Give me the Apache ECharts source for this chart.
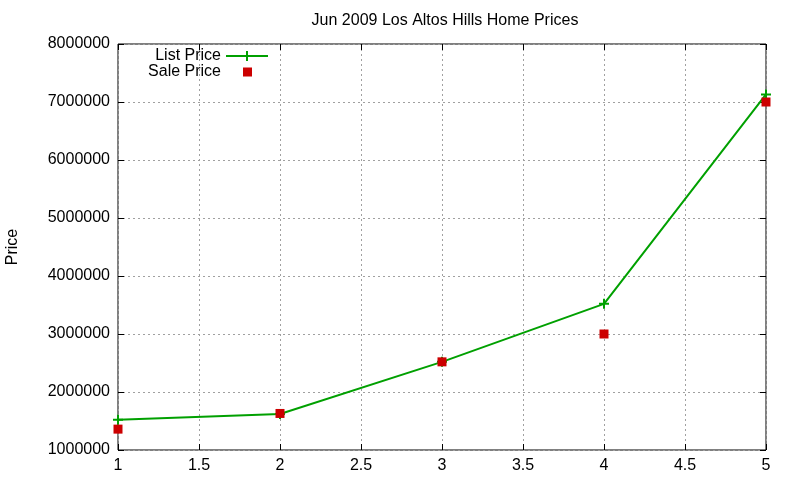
<!DOCTYPE html>
<html>
<head>
<meta charset="utf-8">
<script src="https://cdn.jsdelivr.net/npm/echarts@6/dist/echarts.min.js"></script>
<style>
  html, body { margin: 0; padding: 0; background: #fff; }
  #chart { width: 800px; height: 480px; }
</style>
</head>
<body>
<div id="chart"></div>
<script>
// values
var months = [1, 2, 3, 4, 5];
var listPrice = [1520000, 1620000, 2520000, 3520000, 7130000];
var salePrice = [1360000, 1630000, 2520000, 3000000, 7000000];
var xTicks = [1, 1.5, 2, 2.5, 3, 3.5, 4, 4.5, 5];

var green = '#00a000';
var red = '#cc0000';
var font = 'Liberation Sans, Arial, sans-serif';

function pairs(xs, ys) {
  var out = [];
  for (var i = 0; i < xs.length; i++) out.push([xs[i], ys[i]]);
  return out;
}

// legend samples drawn as small svg pictures (line + cross / square)
var listIcon = 'image://data:image/svg+xml;utf8,' + encodeURIComponent(
  '<svg xmlns="http://www.w3.org/2000/svg" width="42" height="14">' +
  '<line x1="0" y1="7" x2="42" y2="7" stroke="' + green + '" stroke-width="2"/>' +
  '<line x1="21" y1="2" x2="21" y2="12" stroke="' + green + '" stroke-width="2"/>' +
  '</svg>');
var saleIcon = 'image://data:image/svg+xml;utf8,' + encodeURIComponent(
  '<svg xmlns="http://www.w3.org/2000/svg" width="42" height="14">' +
  '<rect x="17" y="2.5" width="9" height="9" fill="' + red + '"/>' +
  '</svg>');

var plus = 'path://M4,0 L6,0 L6,4 L10,4 L10,6 L6,6 L6,10 L4,10 L4,6 L0,6 L0,4 L4,4 Z';

var tickIn = { show: true, inside: true, length: 6, lineStyle: { color: '#000' } };
var dotted = { show: true, lineStyle: { color: '#a0a0a0', type: [2, 3], width: 1 } };

var chart = echarts.init(document.getElementById('chart'));
chart.setOption({
  animation: false,
  backgroundColor: '#fff',
  title: {
    text: 'Jun 2009 Los Altos Hills Home Prices',
    left: 440, top: 8, textAlign: 'center',
    textStyle: { fontFamily: font, fontSize: 16, fontWeight: 'normal', color: '#000' }
  },
  legend: [
    {
      data: [{ name: 'List Price', icon: listIcon }],
      right: 532, top: 48, padding: 0, align: 'right', itemWidth: 42, itemHeight: 14, itemGap: 0,
      selectedMode: false,
      textStyle: { fontFamily: font, fontSize: 16, color: '#000' }
    },
    {
      data: [{ name: 'Sale Price', icon: saleIcon }],
      right: 532, top: 64, padding: 0, align: 'right', itemWidth: 42, itemHeight: 14, itemGap: 0,
      selectedMode: false,
      textStyle: { fontFamily: font, fontSize: 16, color: '#000' }
    }
  ],
  grid: { left: 118, right: 34, top: 44, bottom: 30, outerBoundsMode: 'none', containLabel: false,
    show: true, borderColor: '#000', borderWidth: 1 },
  xAxis: [
    {
      type: 'value', min: 1, max: 5, interval: 0.5,
      axisLine: { show: false }, axisTick: tickIn, splitLine: dotted,
      axisLabel: { fontFamily: font, fontSize: 16, color: '#000', margin: 8,
        formatter: function (v) { return xTicks.indexOf(v) >= 0 ? String(v) : ''; } }
    },
    {
      type: 'value', min: 1, max: 5, interval: 0.5, position: 'top',
      axisLine: { show: false }, axisTick: tickIn, splitLine: { show: false },
      axisLabel: { show: false }
    }
  ],
  yAxis: [
    {
      type: 'value', min: 1000000, max: 8000000, interval: 1000000,
      name: 'Price', nameLocation: 'middle', nameGap: 97, nameRotate: 90,
      nameTextStyle: { fontFamily: font, fontSize: 16, color: '#000' },
      axisLine: { show: false }, axisTick: tickIn, splitLine: dotted,
      axisLabel: { fontFamily: font, fontSize: 16, color: '#000', margin: 8,
        formatter: function (v) { return String(v); } }
    },
    {
      type: 'value', min: 1000000, max: 8000000, interval: 1000000, position: 'right',
      axisLine: { show: false }, axisTick: tickIn, splitLine: { show: false },
      axisLabel: { show: false }
    }
  ],
  series: [
    {
      name: 'List Price', type: 'line', data: pairs(months, listPrice),
      lineStyle: { color: green, width: 2 }, itemStyle: { color: green },
      symbol: plus, symbolSize: 10, showSymbol: true, z: 2
    },
    {
      name: 'Sale Price', type: 'scatter', data: pairs(months, salePrice),
      itemStyle: { color: red, opacity: 1 }, symbol: 'rect', symbolSize: 9, z: 3
    }
  ]
});
</script>
</body>
</html>
